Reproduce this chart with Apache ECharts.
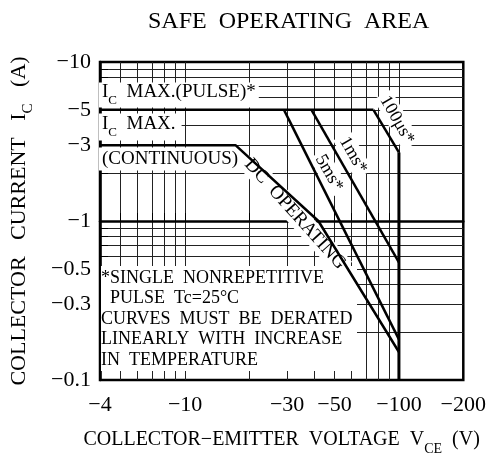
<!DOCTYPE html>
<html>
<head>
<meta charset="utf-8">
<title>Safe Operating Area</title>
<script src="https://cdn.jsdelivr.net/npm/echarts@6/dist/echarts.min.js"></script>
<style>
  html, body { margin: 0; padding: 0; background: #fff; }
  #chart { width: 489px; height: 462px; }
</style>
</head>
<body>
<div id="chart"></div>
<script>
  // magnitudes: |VCE| in V, |IC| in A (axes are labelled negative)
  const xTickLabels = [4, 10, 30, 50, 100, 200]
  const yTickLabels = [0.1, 0.3, 0.5, 1, 3, 5, 10]
  const xGridValues = [5, 6, 7, 8, 9, 10, 20, 30, 40, 50, 60, 70, 80, 90, 100]
  const yGridValues = [0.2, 0.3, 0.4, 0.5, 0.6, 0.7, 0.8, 0.9, 1, 2, 3, 4, 5, 6, 7, 8, 9]

  const pulseMax = [[4, 5], [76, 5]]
  const us100 = [[76, 5], [100, 2.7]]
  const vceoLimit = [[100, 2.7], [100, 0.1]]
  const dcOperating = [[4, 3], [17.2, 3], [42, 1], [100, 0.15]]
  const ms5 = [[29, 5], [100, 0.18]]
  const ms1 = [[39, 5], [100, 0.55]]

  const FONT = 'Liberation Serif'
  const lg = v => Math.log10(v)
  const toLog = arr => arr.map(p => [lg(p[0]), lg(p[1])])
  const fmt = v => '−' + (+Math.pow(10, v).toPrecision(3))

  const chart = echarts.init(document.getElementById('chart'))

  function curve(name, data, width) {
    return {
      name: name,
      type: 'line',
      data: toLog(data),
      showSymbol: false,
      symbol: 'none',
      animation: false,
      lineStyle: { color: '#000', width: width || 2.5 },
      z: 110
    }
  }

  function label(text, x, y, deg, size) {
    return {
      type: 'text',
      x: x,
      y: y,
      rotation: (deg || 0) * Math.PI / 180,
      z: 100,
      style: {
        text: text,
        font: (size || 18) + 'px "' + FONT + '"',
        fill: '#000',
        align: 'center',
        verticalAlign: 'middle',
        backgroundColor: '#fff',
        padding: [1, 3]
      }
    }
  }

  const sub = {
    n: { fontFamily: FONT, fontSize: 19, color: '#000', verticalAlign: 'top', lineHeight: 20 },
    s: { fontFamily: FONT, fontSize: 13, color: '#000', verticalAlign: 'bottom', lineHeight: 25 }
  }
  const subX = {
    n: { fontFamily: FONT, fontSize: 20, color: '#000', verticalAlign: 'top', lineHeight: 21 },
    s: { fontFamily: FONT, fontSize: 14, color: '#000', verticalAlign: 'bottom', lineHeight: 26 }
  }
  const subY = {
    n: { fontFamily: FONT, fontSize: 22, color: '#000', verticalAlign: 'top', lineHeight: 23 },
    s: { fontFamily: FONT, fontSize: 15, color: '#000', verticalAlign: 'bottom', lineHeight: 28 }
  }

  const options = {
    backgroundColor: '#fff',
    animation: false,
    title: {
      text: 'SAFE  OPERATING  AREA',
      left: 143,
      top: 5,
      textStyle: { fontFamily: FONT, fontSize: 24, fontWeight: 'normal', color: '#000' }
    },
    grid: {
      left: 92,
      right: 21,
      top: 62,
      bottom: 82,
      show: true,
      borderColor: '#000',
      borderWidth: 2.5
    },
    xAxis: {
      type: 'value',
      min: lg(4),
      max: lg(200),
      name: '{n|COLLECTOR−EMITTER  VOLTAGE  V}{s|CE}{n|  (V)}',
      nameLocation: 'middle',
      nameGap: 50,
      nameTextStyle: { rich: subX },
      axisLine: { lineStyle: { color: '#000', width: 2.5 } },
      axisTick: {
        inside: true,
        length: 8,
        customValues: xGridValues.map(lg),
        lineStyle: { color: '#000', width: 1 }
      },
      splitLine: { show: true, lineStyle: { color: '#222', width: 1 } },
      axisLabel: {
        customValues: xTickLabels.map(lg),
        formatter: fmt,
        fontFamily: FONT,
        fontSize: 22,
        color: '#000',
        margin: 14
      }
    },
    yAxis: {
      type: 'value',
      min: lg(0.1),
      max: lg(10),
      name: '{n|COLLECTOR   CURRENT   I}{s|C}{n|   (A)}',
      nameLocation: 'middle',
      nameRotate: 90,
      nameGap: 64,
      nameTextStyle: { rich: subY },
      axisLine: { lineStyle: { color: '#000', width: 2.5 } },
      axisTick: {
        inside: true,
        length: 8,
        customValues: yGridValues.map(lg),
        lineStyle: { color: '#000', width: 1 }
      },
      splitLine: { show: true, lineStyle: { color: '#222', width: 1 } },
      axisLabel: {
        customValues: yTickLabels.map(lg),
        formatter: fmt,
        fontFamily: FONT,
        fontSize: 22,
        color: '#000',
        margin: 9
      }
    },
    series: [
      curve('IC MAX. (PULSE)', pulseMax),
      curve('100us', us100),
      curve('VCEO', vceoLimit, 3),
      curve('DC OPERATING', dcOperating),
      curve('5ms', ms5),
      curve('1ms', ms1)
    ],
    graphic: [
      // note box hides the grid but leaves the axis ticks
      {
        type: 'rect',
        z: 90,
        shape: { x: 101, y: 266, width: 256, height: 105 },
        style: { fill: '#fff' }
      },
      {
        type: 'text',
        x: 101,
        y: 268,
        z: 100,
        style: {
          text: '*SINGLE  NONREPETITIVE\n  PULSE  Tc=25°C\nCURVES  MUST  BE  DERATED\nLINEARLY  WITH  INCREASE\nIN  TEMPERATURE',
          font: '18px "' + FONT + '"',
          fill: '#000',
          align: 'left',
          verticalAlign: 'top',
          lineHeight: 20.5
        }
      },
      {
        type: 'text',
        x: 99,
        y: 95,
        z: 100,
        style: {
          text: '{n|I}{s|C}{n|  MAX.(PULSE)*}',
          rich: sub,
          align: 'left',
          verticalAlign: 'middle',
          backgroundColor: '#fff',
          padding: [0, 3]
        }
      },
      {
        type: 'text',
        x: 99,
        y: 127,
        z: 100,
        style: {
          text: '{n|I}{s|C}{n|  MAX.}',
          rich: sub,
          align: 'left',
          verticalAlign: 'middle',
          backgroundColor: '#fff',
          padding: [1, 6, 1, 3]
        }
      },
      {
        type: 'text',
        x: 99,
        y: 159,
        z: 100,
        style: {
          text: '(CONTINUOUS)',
          font: '19px "' + FONT + '"',
          fill: '#000',
          align: 'left',
          verticalAlign: 'middle',
          backgroundColor: '#fff',
          padding: [2, 3]
        }
      },
      label('DC  OPERATING', 295, 214, -48, 19),
      label('5ms*', 329, 173, -60, 18),
      label('1ms*', 353, 155, -60, 18),
      label('100μs*', 397, 120, -60, 18)
    ]
  }

  chart.setOption(options)
</script>
</body>
</html>
